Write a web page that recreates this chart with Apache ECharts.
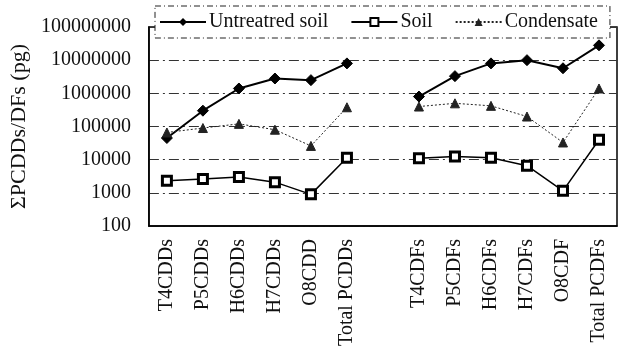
<!DOCTYPE html>
<html>
<head>
<meta charset="utf-8">
<script src="https://cdn.jsdelivr.net/npm/echarts@6/dist/echarts.min.js"></script>
<style>
  html, body { margin: 0; padding: 0; background: #fff; }
  #main { width: 626px; height: 363px; }
</style>
</head>
<body>
<div id="main"></div>
<script>
// categories (empty one keeps the gap between PCDDs and PCDFs)
var categories = ['T4CDDs', 'P5CDDs', 'H6CDDs', 'H7CDDs', 'O8CDD', 'Total PCDDs', '',
  'T4CDFs', 'P5CDFs', 'H6CDFs', 'H7CDFs', 'O8CDF', 'Total PCDFs'];

var untreatedSoil = [45000, 300000, 1400000, 2800000, 2500000, 8000000, null,
  800000, 3300000, 8000000, 10000000, 5700000, 28000000];
var soil = [2300, 2600, 3000, 2100, 900, 11500, null,
  11000, 12500, 11500, 6600, 1150, 40000];
var condensate = [66000, 90000, 120000, 80000, 26000, 380000, null,
  400000, 500000, 420000, 200000, 33000, 1400000];

var serif = '"Liberation Serif", "DejaVu Serif", serif';

var chart = echarts.init(document.getElementById('main'));

var option = {
  animation: false,
  grid: {
    left: 142,
    right: 9,
    top: 27,
    bottom: 137,
    show: true,
    borderColor: '#000',
    borderWidth: 1.5
  },
  legend: {
    left: 155,
    top: 6,
    padding: [6, 12, 6, 4],
    itemGap: 22,
    itemWidth: 46,
    itemHeight: 10,
    borderColor: '#222',
    borderWidth: 1,
    borderType: [6, 3, 1, 3],
    backgroundColor: '#fff',
    textStyle: { fontFamily: serif, fontSize: 20, color: '#111', padding: [0, 0, 0, -2] },
    data: ['Untreatred soil', 'Soil', 'Condensate']
  },
  xAxis: {
    type: 'category',
    data: categories,
    boundaryGap: true,
    axisLine: { lineStyle: { color: '#000', width: 1.5 } },
    axisTick: { show: false },
    axisLabel: {
      rotate: 90,
      interval: 0,
      fontFamily: serif,
      fontSize: 20,
      color: '#111',
      margin: 13
    },
    splitLine: { show: false }
  },
  yAxis: {
    type: 'log',
    logBase: 10,
    min: 100,
    max: 100000000,
    name: 'ΣPCDDs/DFs (pg)',
    nameLocation: 'middle',
    nameRotate: 90,
    nameGap: 112,
    nameTextStyle: { fontFamily: serif, fontSize: 22, color: '#111' },
    axisLine: { show: true, lineStyle: { color: '#000', width: 1.5 } },
    axisTick: { show: false },
    axisLabel: {
      fontFamily: serif,
      fontSize: 20,
      color: '#111',
      margin: 18,
      formatter: function (v) { return String(Math.round(v)); }
    },
    splitLine: {
      show: true,
      lineStyle: { color: '#333', width: 1, type: [10, 4, 2, 4] }
    }
  },
  series: [
    {
      name: 'Untreatred soil',
      type: 'line',
      data: untreatedSoil,
      connectNulls: false,
      symbol: 'diamond',
      symbolSize: 11,
      lineStyle: { color: '#000', width: 2 },
      itemStyle: { color: '#000', borderColor: '#000' }
    },
    {
      name: 'Soil',
      type: 'line',
      data: soil,
      connectNulls: false,
      symbol: 'rect',
      symbolSize: 9,
      lineStyle: { color: '#000', width: 1.5 },
      itemStyle: { color: '#fff', borderColor: '#000', borderWidth: 3 }
    },
    {
      name: 'Condensate',
      type: 'line',
      data: condensate,
      connectNulls: false,
      symbol: 'triangle',
      symbolSize: 9,
      lineStyle: { color: '#222', width: 1, type: [2, 2] },
      itemStyle: { color: '#222', borderColor: '#222' }
    }
  ]
};

chart.setOption(option);
</script>
</body>
</html>
